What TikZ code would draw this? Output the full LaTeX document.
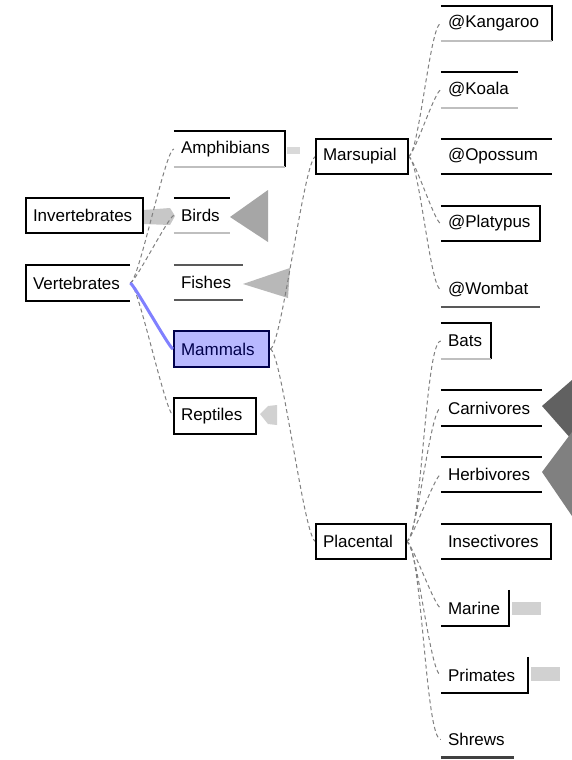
\documentclass[tikz,border=0pt]{standalone}
\usepackage{fontspec}
\setmainfont{Liberation Sans}
\newcommand\tbox[7][]{%
  \pgfmathsetmacro\bw{#5-#3}%
  \pgfmathsetmacro\bh{#6-#4}%
  \pgfmathsetmacro\tw{#5-#3-14}%
  \node[tb,#1,minimum width=\bw pt,minimum height=\bh pt,text width=\tw pt] (#2) at ({(#3+#5)/2},{(#4+#6)/2}) {\mbox{#7}};}
\begin{document}
\begin{tikzpicture}[x=1pt,y=-1pt,
  tb/.style={rectangle,inner xsep=7pt,inner ysep=0pt,align=left,font=\fontsize{17}{20}\selectfont},
  bk/.style={line width=2pt,black},
  lg/.style={line width=2pt,color=black!25},
  dg/.style={line width=2pt,color=black!65},
  con/.style={draw=black!50,line width=1pt,dash pattern=on 4pt off 3pt},
  sel/.style={draw=blue!50,line width=3pt},
  mam/.style={fill=blue!28,draw=blue!30!black,line width=2pt,text=blue!30!black}]
\useasboundingbox[fill=white] (0,0) rectangle (572,760);

% gray indicator shapes
\fill[black!22] (143,210) -- (170,208) -- (175,216) -- (170,225) -- (143,224) -- cycle;
\fill[black!35] (230,217) -- (268,190) -- (268,242) -- cycle;
\fill[black!28] (243,284) -- (290,268) -- (288,298) -- cycle;
\fill[black!15] (287,147) rectangle (300,154);
\fill[black!18] (260,414) -- (268,406) -- (277,405) -- (277,425) -- (268,424) -- cycle;
\fill[black!62] (542,406) -- (572,380) -- (572,440) -- cycle;
\fill[black!50] (542,472) -- (572,432) -- (572,516) -- cycle;
\fill[black!18] (512,602) rectangle (541,615);
\fill[black!18] (531,667) rectangle (560,681);

% nodes
\tbox{inv}{26}{198}{143}{233}{Invertebrates}
\tbox{vert}{26}{265}{130}{301}{Vertebrates}
\tbox{amp}{174}{131}{285}{167}{Amphibians}
\tbox{bird}{174}{198}{230}{233}{Birds}
\tbox{fish}{174}{265}{243}{300}{Fishes}
\tbox[mam]{mamm}{174}{331}{269}{367}{Mammals}
\tbox{rept}{174}{398}{256}{434}{Reptiles}
\tbox{mars}{316}{139}{408}{174}{Marsupial}
\tbox{plac}{316}{524}{406}{559}{Placental}
\tbox{kang}{441}{6}{552}{41}{@Kangaroo}
\tbox{koala}{441}{72}{518}{108}{@Koala}
\tbox{opos}{441}{139}{552}{174}{@Opossum}
\tbox{plat}{441}{206}{540}{241}{@Platypus}
\tbox{womb}{441}{272}{540}{307}{@Wombat}
\tbox{bats}{441}{323}{491}{359}{Bats}
\tbox{carn}{441}{390}{542}{426}{Carnivores}
\tbox{herb}{441}{457}{542}{492}{Herbivores}
\tbox{insec}{441}{524}{551}{559}{Insectivores}
\tbox{mari}{441}{590}{509}{626}{Marine}
\tbox{prim}{441}{657}{528}{693}{Primates}
\tbox{shrew}{441}{722}{514}{757}{Shrews}

% connectors
\foreach \c in {amp,bird,rept}
  \draw[con] (vert.east) to[out=0,in=180,looseness=0.15] (\c.west);
\draw[sel] (vert.east) to[out=0,in=180,looseness=0.1] (mamm.west);
\foreach \c in {mars,plac}
  \draw[con] (mamm.east) to[out=0,in=180,looseness=0.15] (\c.west);
\foreach \c in {kang,koala,plat,womb}
  \draw[con] (mars.east) to[out=0,in=180,looseness=0.2] (\c.west);
\foreach \c in {bats,carn,herb,mari,prim,shrew}
  \draw[con] (plac.east) to[out=0,in=180,looseness=0.2] (\c.west);

% borders
\draw[bk] (inv.north west) rectangle (inv.south east);
\draw[bk] (vert.north east) -- (vert.north west) -- (vert.south west) -- (vert.south east);
\draw[bk] (amp.north west) -- (amp.north east) -- (amp.south east);
\draw[lg] (amp.south west) -- (amp.south east);
\draw[bk] (bird.north west) -- (bird.north east);
\draw[lg] (bird.south west) -- (bird.south east);
\draw[dg] (fish.north west) -- (fish.north east);
\draw[dg] (fish.south west) -- (fish.south east);
\draw[bk] (rept.north west) rectangle (rept.south east);
\draw[bk] (mars.north west) rectangle (mars.south east);
\draw[bk] (plac.north west) rectangle (plac.south east);
\draw[bk] (kang.north west) -- (kang.north east) -- (kang.south east);
\draw[lg] (kang.south west) -- (kang.south east);
\draw[bk] (koala.north west) -- (koala.north east);
\draw[lg] (koala.south west) -- (koala.south east);
\draw[bk] (opos.north west) -- (opos.north east);
\draw[bk] (opos.south west) -- (opos.south east);
\draw[bk] (plat.north west) -- (plat.north east) -- (plat.south east) -- (plat.south west);
\draw[dg] (womb.south west) -- (womb.south east);
\draw[bk] (bats.north west) -- (bats.north east) -- (bats.south east);
\draw[lg] (bats.south west) -- (bats.south east);
\draw[bk] (carn.north west) -- (carn.north east);
\draw[bk] (carn.south west) -- (carn.south east);
\draw[bk] (herb.north west) -- (herb.north east);
\draw[bk] (herb.south west) -- (herb.south east);
\draw[bk] (insec.north west) -- (insec.north east) -- (insec.south east) -- (insec.south west);
\draw[bk] (mari.north east) -- (mari.south east) -- (mari.south west);
\draw[bk] (prim.north east) -- (prim.south east) -- (prim.south west);
\draw[line width=3pt,black!75] (shrew.south west) -- (shrew.south east);
\end{tikzpicture}
\end{document}
